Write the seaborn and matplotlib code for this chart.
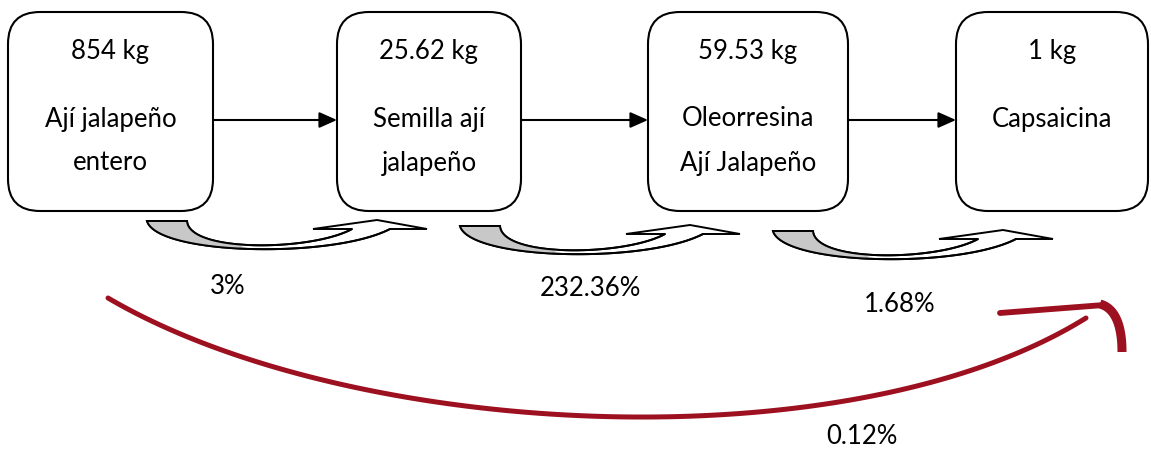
import numpy as np
import pandas as pd
import seaborn as sns
import matplotlib.pyplot as plt
from matplotlib.patches import FancyBboxPatch, Polygon

# Data: process stages, masses and yields
masas = ["854 kg", "25.62 kg", "59.53 kg", "1 kg"]
etapas = [["Ají jalapeño", "entero"], ["Semilla ají", "jalapeño"],
          ["Oleorresina", "Ají Jalapeño"], ["Capsaicina"]]
rendimientos = ["3%", "232.36%", "1.68%"]
rendimiento_total = "0.12%"

# Layout (pixel space)
box_left = [8, 337, 648, 956]
box_right = [213, 521, 848, 1148]
box_top, box_bottom = 12, 211
pct_pos = [(228, 286), (590, 289), (900, 305)]
total_pos = (862, 437)

sns.set_theme(style="white")
plt.rcParams['font.family'] = ['Lato', 'DejaVu Sans']

fig = plt.figure(figsize=(11.51, 4.55), dpi=100)
ax = fig.add_axes([0, 0, 1, 1])
ax.set_xlim(0, 1151)
ax.set_ylim(455, 0)
ax.axis("off")

fs = 18.5
for i, (m, et) in enumerate(zip(masas, etapas)):
    x0, x1 = box_left[i], box_right[i]
    r = 32
    box = FancyBboxPatch((x0 + r, box_top + r), (x1 - x0) - 2 * r, (box_bottom - box_top) - 2 * r,
                         boxstyle=f"round,pad={r}", fc="white", ec="black", lw=1.5, zorder=3)
    ax.add_patch(box)
    cx = (x0 + x1) / 2
    ax.text(cx, 51, m, ha="center", va="center", fontsize=fs, color="black", zorder=4)
    for j, line in enumerate(et):
        ax.text(cx, 119 + 44 * j, line, ha="center", va="center", fontsize=fs, color="black", zorder=4)
    # straight arrow to next box
    if i < len(masas) - 1:
        ax.annotate("", xy=(box_left[i + 1], 120), xytext=(x1, 120),
                    arrowprops=dict(arrowstyle="-|>,head_length=0.9,head_width=0.4",
                                    color="black", lw=1.5, shrinkA=0, shrinkB=0), zorder=2)


def bez(p0, p1, p2, p3, n=60):
    t = np.linspace(0, 1, n)[:, None]
    p0, p1, p2, p3 = map(np.array, (p0, p1, p2, p3))
    return (1 - t) ** 3 * p0 + 3 * (1 - t) ** 2 * t * p1 + 3 * (1 - t) * t ** 2 * p2 + t ** 3 * p3


# curved "U-turn" arrows under each step
for i in range(len(rendimientos)):
    ox, oy = 147 + 313 * i, 221 + 5 * i
    outer = bez((0, 0), (10, 34), (185, 38), (243, 8)) + (ox, oy)
    inner = bez((40, 0), (42, 32), (165, 30), (205, 8)) + (ox, oy)
    head = np.array([(205, 8), (166, 8), (230, -1), (280, 8), (243, 8)]) + (ox, oy)
    band = np.vstack([outer, head[::-1][1:], inner[::-1]])
    ax.add_patch(Polygon(band, closed=True, fc="white", ec="black", lw=1.4, zorder=2, joinstyle="miter"))
    half = 28
    gray = np.vstack([outer[:half], inner[:half][::-1]])
    ax.add_patch(Polygon(gray, closed=True, fc="#c8c8c8", ec="none", zorder=2.1))
    ax.plot(outer[:, 0], outer[:, 1], color="black", lw=1.4, zorder=2.2)
    ax.plot(inner[:, 0], inner[:, 1], color="black", lw=1.4, zorder=2.2)
    ax.plot([ox, ox + 40], [oy, oy], color="black", lw=1.4, zorder=2.2)

# yield labels
for txt, (x, y) in zip(rendimientos, pct_pos):
    ax.text(x, y, txt, ha="center", va="center", fontsize=fs, color="black", zorder=4)
ax.text(total_pos[0], total_pos[1], rendimiento_total, ha="center", va="center",
        fontsize=fs, color="black", zorder=4)

# overall red arc
arc = bez((108, 298), (350, 440), (850, 465), (1086, 318), n=120)
arc_df = pd.DataFrame({"x": arc[:, 0], "y": arc[:, 1]})
sns.lineplot(data=arc_df, x="x", y="y", sort=False, color="#9c1020", lw=3.6, ax=ax, zorder=3)
ax.plot([1000, 1104], [313, 305], color="#9c1020", lw=4.2, solid_capstyle="round", zorder=3)
tip = bez((1100, 304), (1115, 308), (1122, 325), (1122, 352), n=30)
ax.plot(tip[:, 0], tip[:, 1], color="#9c1020", lw=6.5, solid_capstyle="butt", zorder=3)
ax.set_xlim(0, 1151)
ax.set_ylim(455, 0)
ax.axis("off")

fig.savefig("out.png", dpi=100)
